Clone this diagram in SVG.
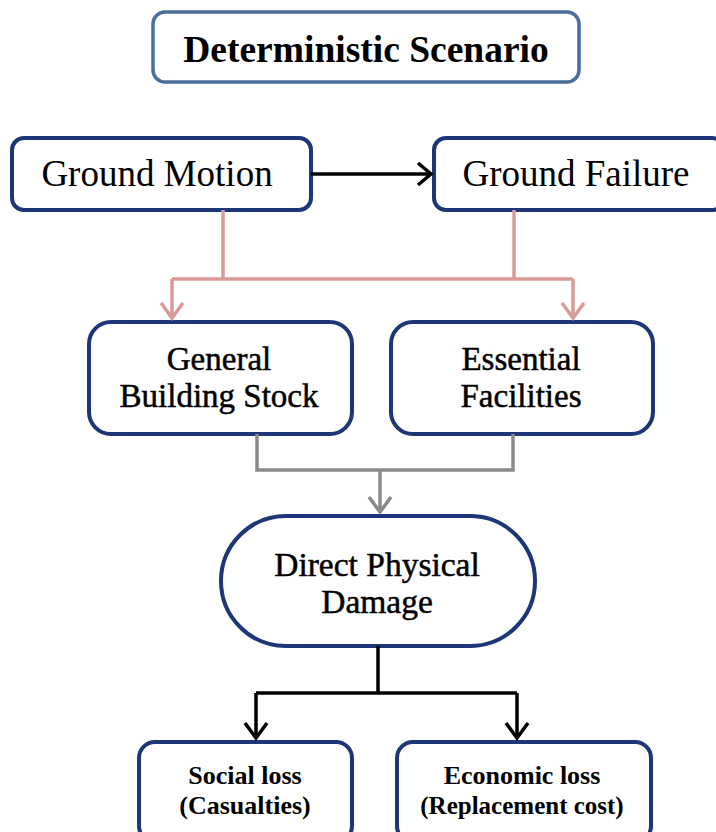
<svg xmlns="http://www.w3.org/2000/svg" width="716" height="832" viewBox="0 0 716 832">
<defs>
<style>
.box{fill:#fff;stroke:#1c3677;stroke-width:4}
.title{fill:#fff;stroke:#4a6e9c;stroke-width:3.5}
text{font-family:"Liberation Serif","Times New Roman",serif;fill:#000;text-anchor:middle}
.b{font-weight:bold}
.m{stroke:#000;stroke-width:0.5}
.pink{fill:none;stroke:#d99a98;stroke-width:3.5}
.gray{fill:none;stroke:#8a8a8a;stroke-width:3.5}
.blk{fill:none;stroke:#000;stroke-width:3.5}
</style>
</defs>
<rect width="716" height="832" fill="#fff"/>
<g id="title"><rect class="title" x="153" y="12" width="426" height="70" rx="12"/><text class="b" x="366" y="62" font-size="37.5">Deterministic Scenario</text></g>
<g id="ground-motion"><rect class="box" x="12" y="138" width="299" height="72" rx="12"/><text x="157" y="186" font-size="37">Ground Motion</text></g>
<g id="ground-failure"><rect class="box" x="434" y="138" width="290" height="72" rx="12"/><text x="576" y="186" font-size="37">Ground Failure</text></g>
<g id="general-building"><rect class="box" x="89" y="322" width="263" height="112" rx="22"/><text class="m" x="219" y="370" font-size="33">General</text><text class="m" x="219" y="407" font-size="33">Building Stock</text></g>
<g id="essential"><rect class="box" x="391" y="322" width="262" height="112" rx="22"/><text class="m" x="521" y="370" font-size="33">Essential</text><text class="m" x="521" y="407" font-size="33">Facilities</text></g>
<g id="direct-damage"><rect class="box" x="221" y="516" width="314" height="130" rx="65"/><text class="m" x="377" y="576" font-size="33.5">Direct Physical</text><text class="m" x="377" y="613" font-size="33.5">Damage</text></g>
<g id="social"><rect class="box" x="139" y="742" width="213" height="100" rx="16"/><text class="b" x="245" y="784" font-size="26">Social loss</text><text class="b" x="245" y="814" font-size="26">(Casualties)</text></g>
<g id="economic"><rect class="box" x="397" y="742" width="254" height="100" rx="16"/><text class="b" x="522" y="784" font-size="26">Economic loss</text><text class="b" x="522" y="814" font-size="25">(Replacement cost)</text></g>
<g id="connectors">
<line class="blk" x1="311" y1="174" x2="430" y2="174"/>
<path d="M418,163 L431,174 L418,185" fill="none" stroke="#000" stroke-width="3.5"/>
<path class="pink" d="M223,210 V279 M514,210 V279 M172,279 H573 M172,279 V318 M573,279 V318"/>
<path class="pink" d="M161,303 L172,318 L183,303 M562,303 L573,318 L584,303"/>
<path class="gray" d="M257,434 V470 H513 V434 M380,470 V512"/>
<path class="gray" d="M369,497 L380,512 L391,497"/>
<path class="blk" d="M378,646 V693 M256,693 H517 M256,693 V738 M517,693 V738"/>
<path class="blk" d="M245,723 L256,738 L267,723 M506,723 L517,738 L528,723"/>
</g>
</svg>
